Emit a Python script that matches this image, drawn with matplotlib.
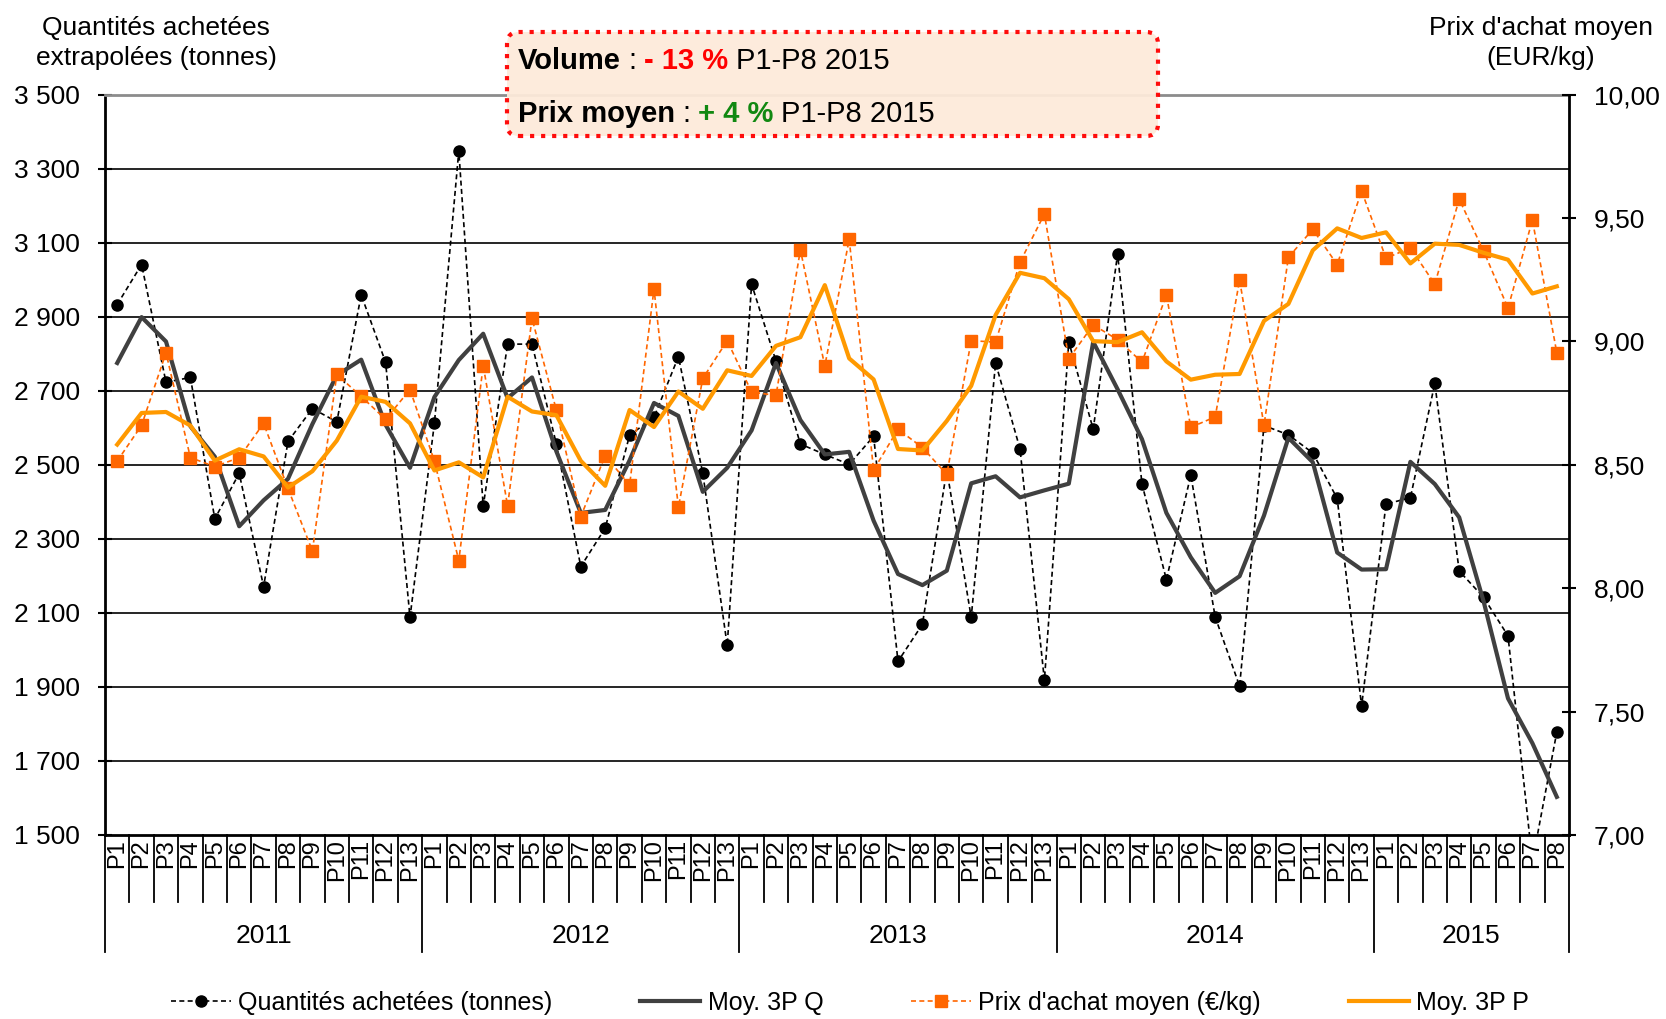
import matplotlib.pyplot as plt
from matplotlib.patches import FancyBboxPatch
from matplotlib.text import Annotation
from matplotlib.transforms import IdentityTransform, blended_transform_factory
from matplotlib.ticker import FuncFormatter

plt.rcParams['font.family'] = ['Liberation Sans', 'DejaVu Sans']

# ---------------------------------------------
# Donnees
years = ["2011", "2012", "2013", "2014", "2015"]
periods_per_year = [13, 13, 13, 13, 8]

quantites = [2933, 3041, 2723, 2736, 2354, 2477, 2171, 2563, 2652, 2616, 2959, 2777, 2088,
             2612, 3348, 2388, 2826, 2826, 2556, 2225, 2329, 2580, 2628, 2792, 2477, 2012,
             2988, 2780, 2556, 2528, 2501, 2577, 1969, 2069, 2486, 2088, 2775, 2543, 1918,
             2832, 2596, 3069, 2448, 2190, 2472, 2089, 1902, 2606, 2581, 2532, 2409, 1848,
             2394, 2411, 2720, 2213, 2142, 2038, 1428, 1778]

moy_q = [2775, 2899, 2833, 2604, 2522, 2334, 2404, 2462, 2610, 2742, 2784, 2608, 2492,
         2683, 2783, 2854, 2680, 2736, 2536, 2370, 2378, 2512, 2667, 2632, 2427, 2492,
         2593, 2775, 2621, 2528, 2535, 2349, 2205, 2175, 2214, 2450, 2469, 2412, 2431,
         2449, 2832, 2704, 2569, 2370, 2250, 2154, 2199, 2363, 2573, 2507, 2263, 2217,
         2218, 2508, 2448, 2358, 2131, 1869, 1748, 1603]

prix = [8.515, 8.660, 8.954, 8.529, 8.493, 8.529, 8.668, 8.404, 8.151, 8.866, 8.777, 8.684, 8.805,
        8.515, 8.112, 8.902, 8.334, 9.093, 8.721, 8.290, 8.537, 8.418, 9.212, 8.328, 8.850, 9.003,
        8.795, 8.781, 9.371, 8.900, 9.414, 8.479, 8.644, 8.570, 8.461, 9.003, 8.997, 9.321, 9.516,
        8.930, 9.067, 9.007, 8.916, 9.188, 8.652, 8.694, 9.249, 8.660, 9.341, 9.454, 9.311, 9.610,
        9.337, 9.379, 9.232, 9.576, 9.366, 9.135, 9.492, 8.954]

moy_p = [8.582, 8.710, 8.714, 8.659, 8.517, 8.563, 8.534, 8.408, 8.474, 8.598, 8.776, 8.755, 8.668,
         8.477, 8.510, 8.449, 8.776, 8.716, 8.701, 8.516, 8.415, 8.722, 8.653, 8.797, 8.727, 8.883,
         8.860, 8.982, 9.017, 9.228, 8.931, 8.846, 8.564, 8.558, 8.678, 8.820, 9.107, 9.278, 9.256,
         9.171, 9.001, 8.997, 9.037, 8.919, 8.845, 8.865, 8.868, 9.083, 9.152, 9.369, 9.458, 9.419,
         9.442, 9.316, 9.396, 9.391, 9.359, 9.331, 9.194, 9.223]

q_ticks = [1500, 1700, 1900, 2100, 2300, 2500, 2700, 2900, 3100, 3300, 3500]
p_ticks = [7.0, 7.5, 8.0, 8.5, 9.0, 9.5, 10.0]

periods = []
for n in periods_per_year:
    periods += ["P%d" % (k + 1) for k in range(n)]
x = list(range(len(periods)))

W, H = 1666, 1019

# ---------------------------------------------
fig = plt.figure(figsize=(W / 100, H / 100), dpi=100)
ax = fig.add_axes([105 / W, 1 - 835 / H, (1569 - 105) / W, (835 - 94.6) / H])
ax2 = ax.twinx()

ax.set_xlim(-0.5, len(x) - 0.5)
ax.set_ylim(q_ticks[0], q_ticks[-1])
ax2.set_ylim(p_ticks[0], p_ticks[-1])

# series
l1, = ax.plot(x, quantites, color='black', ls=(0, (3, 2)), lw=1.2, marker='o', ms=8,
              mfc='black', mec='black', label="Quantités achetées (tonnes)")
l2, = ax.plot(x, moy_q, color='#404040', lw=3, label="Moy. 3P Q")
l3, = ax2.plot(x, prix, color='#FF6600', ls=(0, (3, 2)), lw=1.2, marker='s', ms=9,
               mfc='#FF6600', mec='#FF6600', label="Prix d'achat moyen (€/kg)")
l4, = ax2.plot(x, moy_p, color='#FF9900', lw=3, label="Moy. 3P P")

# y axes
ax.set_yticks(q_ticks)
ax.yaxis.set_major_formatter(FuncFormatter(lambda v, p: "{:,}".format(int(round(v))).replace(",", " ")))
ax2.set_yticks(p_ticks)
ax2.yaxis.set_major_formatter(FuncFormatter(lambda v, p: "{:.2f}".format(v).replace(".", ",")))
ax.tick_params(axis='y', direction='inout', length=10, width=1.5, labelsize=19, pad=13)
ax2.tick_params(axis='y', direction='inout', length=10, width=1.5, labelsize=19, pad=13)

ax.yaxis.grid(True, color='black', lw=1.2)
ax.set_axisbelow(True)
gl = ax.get_ygridlines()
gl[0].set_visible(False)
gl[-1].set_visible(False)

for s in ['left', 'bottom']:
    ax.spines[s].set_linewidth(2)
ax.spines['top'].set_color('#8c8c8c')
ax.spines['top'].set_linewidth(2)
ax.spines['right'].set_visible(False)
for s in ['left', 'bottom', 'top']:
    ax2.spines[s].set_visible(False)
ax2.spines['right'].set_linewidth(2)

# x axis : periodes + annees
ax.set_xticks(x)
ax.set_xticklabels(periods, rotation=90, fontsize=17)
ax.tick_params(axis='x', length=0, pad=3)

trans = blended_transform_factory(ax.transData, ax.transAxes)
axh = 835 - 94.6
short = -(902 - 835) / axh
long_ = -(952 - 835) / axh
bounds = [0]
for n in periods_per_year:
    bounds.append(bounds[-1] + n)
for b in range(len(x) + 1):
    yb = long_ if b in bounds else short
    ax.plot([b - 0.5, b - 0.5], [0, yb], transform=trans, clip_on=False, color='black', lw=1.3)
for i, yr in enumerate(years):
    c = (bounds[i] + bounds[i + 1] - 1) / 2
    ax.text(c, -(936 - 835) / axh, yr, transform=trans, ha='center', va='center', fontsize=19)

# titres des axes
fig.text(156 / W, 1 - 43 / H, "Quantités achetées\nextrapolées (tonnes)", ha='center', va='center',
         fontsize=19, linespacing=1.3)
fig.text(1541 / W, 1 - 43 / H, "Prix d'achat moyen\n(EUR/kg)", ha='center', va='center',
         fontsize=19, linespacing=1.3)

# legende
fig.legend([l1, l2, l3, l4], [l.get_label() for l in (l1, l2, l3, l4)], loc='center',
           bbox_to_anchor=(850 / W, 1 - 1003 / H), ncol=4, frameon=False, fontsize=18,
           handlelength=2.4, handletextpad=0.3, columnspacing=3.5, numpoints=1)

# encadre
box = FancyBboxPatch((507, H - 136), 651, 104, boxstyle="round,pad=0,rounding_size=12",
                     transform=IdentityTransform(), fc='#FDEADA', ec='red', ls=':', lw=3,
                     alpha=0.95, zorder=5)
fig.add_artist(box)


def rich_line(y_px, pieces):
    prev = None
    for txt, weight, color, gap in pieces:
        if prev is None:
            prev = fig.text(518 / W, 1 - y_px / H, txt, fontsize=21, fontweight=weight,
                            color=color, ha='left', va='center', zorder=6)
        else:
            ann = Annotation(txt, xy=(1, 0), xycoords=prev, xytext=(gap, 0),
                             textcoords='offset points', fontsize=21, fontweight=weight,
                             color=color, ha='left', va='bottom', zorder=6)
            fig.add_artist(ann)
            prev = ann


rich_line(61, [("Volume", 'bold', 'black', 0), (":", 'normal', 'black', 5.5),
               ("- 13 %", 'bold', 'red', 5.5), ("P1-P8 2015", 'normal', 'black', 5.5)])
rich_line(114, [("Prix moyen", 'bold', 'black', 0), (":", 'normal', 'black', 5.5),
                ("+ 4 %", 'bold', '#118811', 5.5), ("P1-P8 2015", 'normal', 'black', 5.5)])

fig.savefig("out.png", dpi=100)
